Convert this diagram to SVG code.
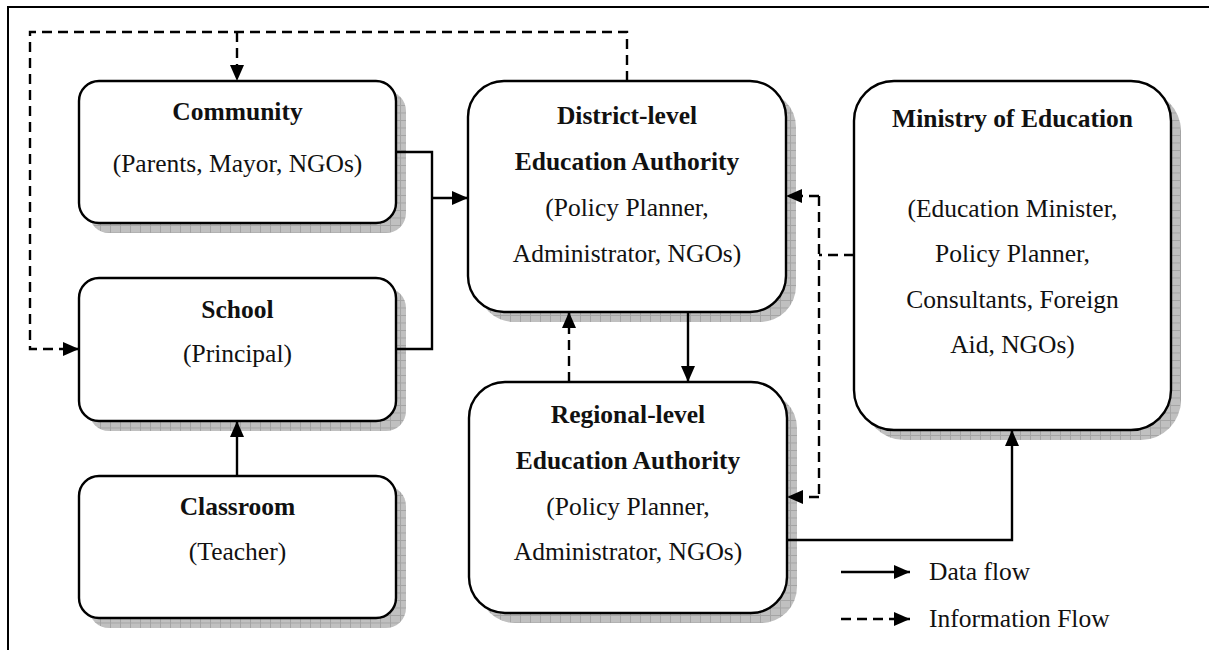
<svg xmlns="http://www.w3.org/2000/svg" width="1209" height="650" viewBox="0 0 1209 650">
  <style>
    .box { fill: #ffffff; stroke: #000000; stroke-width: 2.4; }
    .shadow { fill: url(#hatch); stroke: none; }
    .t { font-family: "Liberation Serif", "Times New Roman", serif; font-size: 25.5px; fill: #111111; text-anchor: middle; }
    .b { font-weight: bold; }
    .leg { text-anchor: start; }
    .solid { fill: none; stroke: #000000; stroke-width: 2.4; }
    .dash { fill: none; stroke: #000000; stroke-width: 2.4; stroke-dasharray: 10 6; }
    .frame { fill: none; stroke: #000000; stroke-width: 2; }
  </style>
  <defs>
    <pattern id="hatch" width="10" height="7.5" patternUnits="userSpaceOnUse">
      <rect width="10" height="7.5" fill="#c0c0c0"/>
      <path d="M0,0.5 H10 M0.5,0 V7.5" stroke="#a4a4a4" stroke-width="1"/>
    </pattern>
    <marker id="arr" markerUnits="userSpaceOnUse" markerWidth="16" markerHeight="14" refX="16" refY="7" orient="auto">
      <path d="M0,0 L16,7 L0,14 z" fill="#000000"/>
    </marker>
  </defs>

  <rect width="1209" height="650" fill="#ffffff"/>

  <!-- page frame -->
  <path class="frame" d="M8,650 V7 H1209"/>

  <!-- nodes -->
  <g id="community">
    <rect class="shadow" x="89" y="91" width="317" height="142" rx="20"/>
    <rect class="box" x="79" y="81" width="317" height="142" rx="20"/>
    <text class="t b" x="237.5" y="120">Community</text>
    <text class="t" x="237.5" y="172">(Parents, Mayor, NGOs)</text>
  </g>

  <g id="school">
    <rect class="shadow" x="89" y="288" width="317" height="143" rx="20"/>
    <rect class="box" x="79" y="278" width="317" height="143" rx="20"/>
    <text class="t b" x="237.5" y="318">School</text>
    <text class="t" x="237.5" y="362">(Principal)</text>
  </g>

  <g id="classroom">
    <rect class="shadow" x="89" y="486" width="317" height="142" rx="20"/>
    <rect class="box" x="79" y="476" width="317" height="142" rx="20"/>
    <text class="t b" x="237.5" y="515">Classroom</text>
    <text class="t" x="237.5" y="560">(Teacher)</text>
  </g>

  <g id="district">
    <rect class="shadow" x="478" y="91" width="318" height="231" rx="36"/>
    <rect class="box" x="468" y="81" width="318" height="231" rx="36"/>
    <text class="t b" x="627" y="124">District-level</text>
    <text class="t b" x="627" y="170">Education Authority</text>
    <text class="t" x="627" y="216">(Policy Planner,</text>
    <text class="t" x="627" y="262">Administrator, NGOs)</text>
  </g>

  <g id="regional">
    <rect class="shadow" x="479" y="392" width="318" height="231" rx="36"/>
    <rect class="box" x="469" y="382" width="318" height="231" rx="36"/>
    <text class="t b" x="628" y="423">Regional-level</text>
    <text class="t b" x="628" y="469">Education Authority</text>
    <text class="t" x="628" y="515">(Policy Planner,</text>
    <text class="t" x="628" y="560">Administrator, NGOs)</text>
  </g>

  <g id="ministry">
    <rect class="shadow" x="864" y="91" width="317" height="349" rx="40"/>
    <rect class="box" x="854" y="81" width="317" height="349" rx="40"/>
    <text class="t b" x="1012.5" y="127">Ministry of Education</text>
    <text class="t" x="1012.5" y="217">(Education Minister,</text>
    <text class="t" x="1012.5" y="262">Policy Planner,</text>
    <text class="t" x="1012.5" y="308">Consultants, Foreign</text>
    <text class="t" x="1012.5" y="353">Aid, NGOs)</text>
  </g>

  <!-- connectors -->
  <g id="connectors">
    <!-- information loop from the district authority back to community and school -->
    <path class="dash" d="M627,81 V32 H30 V349 H79" marker-end="url(#arr)"/>
    <path class="dash" d="M237,32 V81" marker-end="url(#arr)"/>
    <!-- community and school data into the district authority -->
    <path class="solid" d="M396,152 H432 V349 H396"/>
    <path class="solid" d="M432,198 H468" marker-end="url(#arr)"/>
    <!-- classroom to school -->
    <path class="solid" d="M237,476 V421" marker-end="url(#arr)"/>
    <!-- district to regional and back -->
    <path class="solid" d="M688,312 V382" marker-end="url(#arr)"/>
    <path class="dash" d="M569,382 V312" marker-end="url(#arr)"/>
    <!-- ministry information to district and regional -->
    <path class="dash" d="M854,255 H819"/>
    <path class="dash" d="M819,196 V497"/>
    <path class="dash" d="M819,196 H786" marker-end="url(#arr)"/>
    <path class="dash" d="M819,497 H787" marker-end="url(#arr)"/>
    <!-- regional data up to the ministry -->
    <path class="solid" d="M787,540 H1012 V430" marker-end="url(#arr)"/>
  </g>

  <!-- legend -->
  <g id="legend">
    <path class="solid" d="M841,572 H910" marker-end="url(#arr)"/>
    <text class="t leg" x="929" y="580">Data flow</text>
    <path class="dash" d="M841,619 H910" marker-end="url(#arr)"/>
    <text class="t leg" x="929" y="627">Information Flow</text>
  </g>
</svg>
